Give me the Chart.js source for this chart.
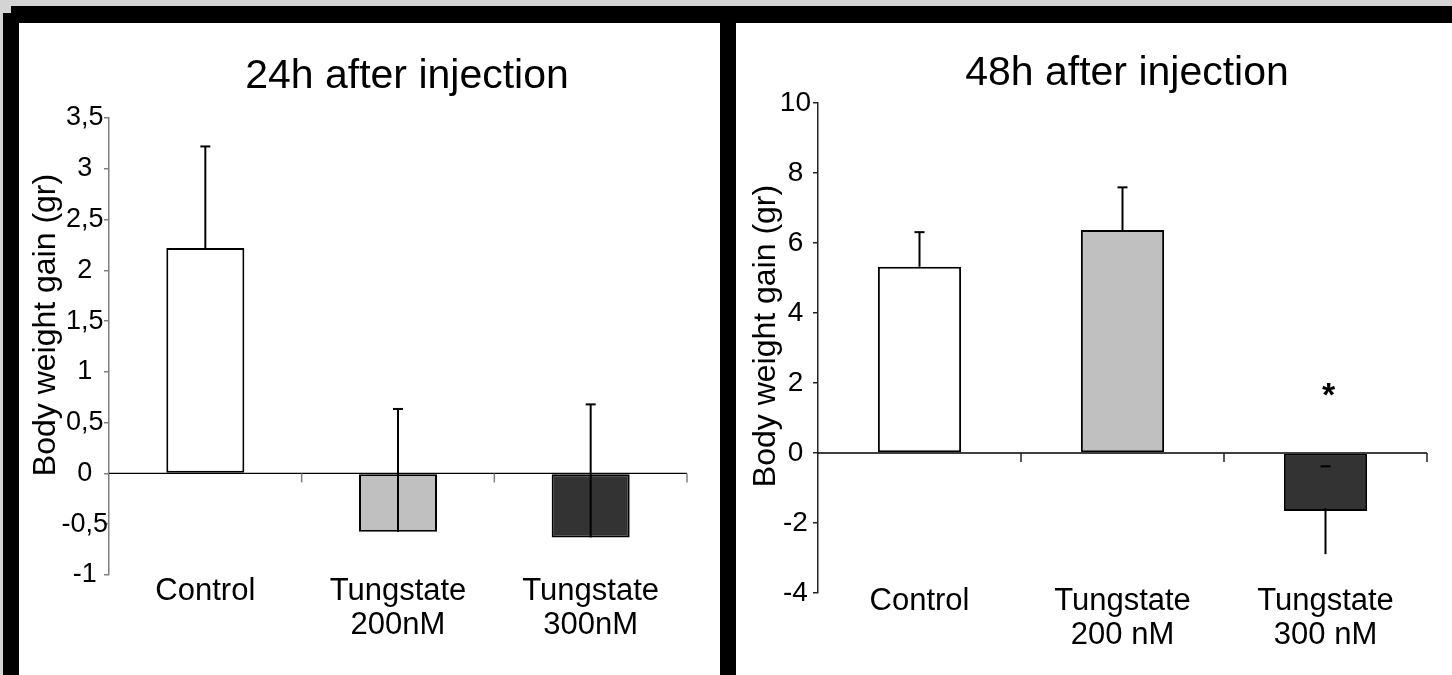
<!DOCTYPE html>
<html>
<head>
<meta charset="utf-8">
<script src="https://cdn.jsdelivr.net/npm/chart.js@4.4.1/dist/chart.umd.min.js"></script>
<style>
  html, body { margin: 0; padding: 0; }
  body { width: 1452px; height: 675px; background: #d4d4d4; position: relative; overflow: hidden; }
  .frame { position: absolute; left: 3px; top: 6px; width: 1449px; height: 669px; background: #000; }
  .notch { position: absolute; left: 3px; top: 6px; width: 8px; height: 7px; background: #d4d4d4; }
  .panel { position: absolute; top: 23px; height: 652px; background: #fff; }
  #p24 { left: 19px; width: 701px; }
  #p48 { left: 736px; width: 716px; }
  canvas { position: absolute; left: 0; top: 0; }
</style>
</head>
<body>
<div class="frame"></div>
<div class="notch"></div>
<div class="panel" id="p24"><canvas id="c24" width="701" height="652"></canvas></div>
<div class="panel" id="p48"><canvas id="c48" width="716" height="652"></canvas></div>
<script>
// 24h panel
const cats24 = [['Control'], ['Tungstate', '200nM'], ['Tungstate', '300nM']];
const gain24 = [2.22, -0.575, -0.63];
const sdUp24 = [1.0, 1.21, 1.31];
const sdDown24 = [0, 0, 0];
const yTicks24 = [-1, -0.5, 0, 0.5, 1, 1.5, 2, 2.5, 3, 3.5];

// 48h panel
const cats48 = [['Control'], ['Tungstate', '200 nM'], ['Tungstate', '300 nM']];
const gain48 = [5.32, 6.37, -1.66];
const sdUp48 = [0.99, 1.22, 1.28];
const sdDown48 = [0, 0, 1.23];
const yTicks48 = [-4, -2, 0, 2, 4, 6, 8, 10];
const stars48 = ['', '', '*'];
const starLevel48 = 1.6;

const barColors = ['#ffffff', '#c0c0c0', '#333333'];
const FONT = '"Liberation Sans", Arial, sans-serif';

// zero line + category tick marks, error bars, stars
function makeMarks(up, down, upLine, stars, starLevel, tickColor) {
  return {
    id: 'marks',
    beforeDatasetsDraw(chart) {
      const {ctx, chartArea} = chart;
      const x = chart.scales.x, y = chart.scales.y;
      const y0 = y.getPixelForValue(0);
      ctx.save();
      ctx.strokeStyle = '#000';
      ctx.lineWidth = 1.3;
      ctx.beginPath();
      ctx.moveTo(chartArea.left, y0);
      ctx.lineTo(chartArea.right, y0);
      ctx.stroke();
      ctx.strokeStyle = tickColor;
      ctx.lineWidth = 1.5;
      for (let i = 0; i < chart.data.labels.length; i++) {
        const px = x.getPixelForValue(i + 0.5);
        ctx.beginPath();
        ctx.moveTo(px, y0);
        ctx.lineTo(px, y0 + 9);
        ctx.stroke();
      }
      ctx.restore();
    },
    afterDatasetsDraw(chart) {
      const {ctx} = chart;
      const y = chart.scales.y;
      const vals = chart.data.datasets[0].data;
      ctx.save();
      ctx.strokeStyle = '#000';
      ctx.lineWidth = 2;
      chart.getDatasetMeta(0).data.forEach((bar, i) => {
        if (up[i]) {
          const yt = y.getPixelForValue(vals[i] + up[i]);
          if (upLine[i]) {
            ctx.beginPath(); ctx.moveTo(bar.x, bar.y); ctx.lineTo(bar.x, yt); ctx.stroke();
          }
          ctx.beginPath(); ctx.moveTo(bar.x - 5, yt); ctx.lineTo(bar.x + 5, yt); ctx.stroke();
        }
        if (down[i]) {
          const yb = y.getPixelForValue(vals[i] - down[i]);
          ctx.beginPath(); ctx.moveTo(bar.x, bar.y - 3); ctx.lineTo(bar.x, yb); ctx.stroke();
        }
        if (stars && stars[i]) {
          ctx.fillStyle = '#000';
          ctx.font = 'bold 34px ' + FONT;
          ctx.textAlign = 'center';
          ctx.textBaseline = 'middle';
          ctx.fillText(stars[i], bar.x + 3, y.getPixelForValue(starLevel));
        }
      });
      ctx.restore();
    }
  };
}

// panel title, rotated axis title and the category names under the plot
function makeText(title, tx, ty, axisTitle, ax, ay, catTop, catGap) {
  return {
    id: 'panelText',
    afterDraw(chart) {
      const {ctx, chartArea} = chart;
      const x = chart.scales.x;
      ctx.save();
      ctx.fillStyle = '#000';
      ctx.textAlign = 'center';
      ctx.textBaseline = 'alphabetic';
      ctx.font = '31px ' + FONT;
      chart.data.labels.forEach((lines, i) => {
        const px = x.getPixelForValue(i);
        lines.forEach((s, k) => ctx.fillText(s, px, chartArea.bottom + catTop + k * catGap));
      });
      ctx.font = '41px ' + FONT;
      ctx.fillText(title, tx, ty);
      ctx.translate(ax, ay);
      ctx.rotate(-Math.PI / 2);
      ctx.font = '32px ' + FONT;
      ctx.textBaseline = 'middle';
      ctx.fillText(axisTitle, 0, 0);
      ctx.restore();
    }
  };
}

function makeChart(id, cats, vals, cfg) {
  return new Chart(document.getElementById(id), {
    type: 'bar',
    data: {
      labels: cats,
      datasets: [{
        data: vals,
        backgroundColor: barColors,
        borderColor: '#000',
        borderWidth: 2,
        borderSkipped: false,
        barPercentage: 1,
        categoryPercentage: cfg.catPct
      }]
    },
    options: {
      responsive: false,
      animation: false,
      devicePixelRatio: 1,
      layout: { padding: { left: 0, top: cfg.top, right: cfg.right, bottom: 0 } },
      plugins: { legend: { display: false }, tooltip: { enabled: false }, title: { display: false } },
      scales: {
        x: {
          afterFit: s => { s.height = cfg.xHeight; },
          grid: { display: false, drawTicks: false },
          border: { display: false },
          ticks: { display: false }
        },
        y: {
          min: cfg.ticks[0],
          max: cfg.ticks[cfg.ticks.length - 1],
          afterBuildTicks: s => { s.ticks = cfg.ticks.map(v => ({ value: v })); },
          afterFit: s => { s.width = cfg.yWidth; },
          border: { display: true, color: cfg.axisColor, width: 1.5 },
          grid: { drawOnChartArea: false, drawTicks: true, tickLength: 5, color: cfg.axisColor, lineWidth: 1.5 },
          ticks: {
            color: '#000', font: { family: FONT, size: cfg.tickSize },
            crossAlign: 'center', padding: cfg.yPad,
            callback: v => String(v).replace('.', ',')
          }
        }
      }
    },
    plugins: cfg.plugins
  });
}

makeChart('c24', cats24, gain24, {
  catPct: 0.405, top: 95, right: 33, xHeight: 100, yWidth: 90, yPad: -4,
  tickSize: 27, axisColor: '#808080', ticks: yTicks24,
  plugins: [
    makeMarks(sdUp24, sdDown24, [true, true, true], null, 0, '#808080'),
    makeText('24h after injection', 388, 65, 'Body weight gain (gr)', 27, 302, 25, 34)
  ]
});

makeChart('c48', cats48, gain48, {
  catPct: 0.41, top: 80, right: 25, xHeight: 82, yWidth: 82, yPad: 2,
  tickSize: 28, axisColor: '#222222', ticks: yTicks48,
  plugins: [
    makeMarks(sdUp48, sdDown48, [true, true, false], stars48, starLevel48, '#222222'),
    makeText('48h after injection', 391, 62, 'Body weight gain (gr)', 30, 313, 17, 34)
  ]
});
</script>
</body>
</html>
